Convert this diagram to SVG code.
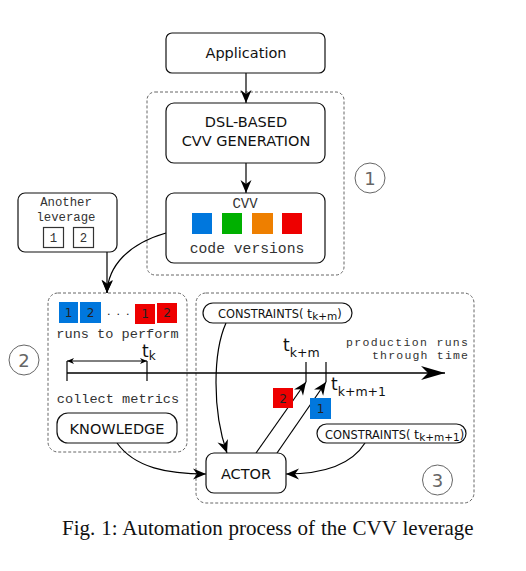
<svg xmlns="http://www.w3.org/2000/svg" width="526" height="571" viewBox="0 0 526 571">
<style>
.node{fill:#fff;stroke:#111;stroke-width:1.2}
.dash{fill:none;stroke:#666;stroke-width:1;stroke-dasharray:3,2}
.sans{font-family:"DejaVu Sans","Liberation Sans",sans-serif;fill:#111}
.mono{font-family:"Liberation Mono","DejaVu Sans Mono",monospace;fill:#333}
.circ{fill:none;stroke:#666;stroke-width:1}
.cnum{font-family:"DejaVu Sans",sans-serif;font-size:18px;fill:#666;text-anchor:middle}
.edge{fill:none;stroke:#000;stroke-width:1.2}
.sq{font-family:"DejaVu Sans",sans-serif;font-size:12px;fill:#222;text-anchor:middle}
</style>
<defs>
<marker id="ah" markerUnits="userSpaceOnUse" markerWidth="16" markerHeight="14" viewBox="-14 -7 16 14" refX="0" refY="0" orient="auto">
<path d="M0,0 L-13,-5.5 L-9,0 L-13,5.5 Z" fill="#000"/>
</marker>
<marker id="sm" markerUnits="userSpaceOnUse" markerWidth="10" markerHeight="8" viewBox="-8 -4 10 8" refX="0" refY="0" orient="auto-start-reverse">
<path d="M0,0 L-7,-3 L-5,0 L-7,3 Z" fill="#000"/>
</marker>
<marker id="big" markerUnits="userSpaceOnUse" markerWidth="26" markerHeight="16" viewBox="-25 -8 26 16" refX="0" refY="0" orient="auto">
<path d="M0,0 L-24,-7 L-17,0 L-24,7 Z" fill="#000"/>
</marker>
</defs>

<g id="groups">
<rect class="dash" x="147" y="92" width="197" height="183" rx="8"/>
<rect class="dash" x="48" y="293" width="139" height="159" rx="10"/>
<rect class="dash" x="196" y="293" width="278" height="210" rx="10"/>
<circle class="circ" cx="370" cy="178" r="15"/>
<text class="cnum" x="370" y="184.5">1</text>
<circle class="circ" cx="24" cy="360" r="15"/>
<text class="cnum" x="24" y="366.5">2</text>
<circle class="circ" cx="437.5" cy="480" r="15"/>
<text class="cnum" x="437.5" y="486.5">3</text>
</g>

<g id="timeline">
<line x1="67" y1="373" x2="445" y2="373" stroke="#000" stroke-width="1.4" marker-end="url(#big)"/>
<line x1="67" y1="361" x2="67" y2="381" stroke="#000" stroke-width="1.2"/>
<line x1="147" y1="361" x2="147" y2="381" stroke="#000" stroke-width="1.2"/>
<line x1="67" y1="361" x2="147" y2="361" stroke="#000" stroke-width="1" marker-start="url(#sm)" marker-end="url(#sm)"/>
<line x1="306" y1="362" x2="306" y2="382" stroke="#000" stroke-width="1.2"/>
<line x1="326" y1="362" x2="326" y2="382" stroke="#000" stroke-width="1.2"/>
<text class="sans" x="142" y="357" font-size="17">t<tspan font-size="12" dy="3">k</tspan></text>
<text class="sans" x="283" y="351" font-size="17">t<tspan font-size="12.5" dy="6">k+m</tspan></text>
<text class="sans" x="331" y="390" font-size="17">t<tspan font-size="12.5" dy="6">k+m+1</tspan></text>
<text class="mono" font-size="11.5"><tspan x="346" y="346" textLength="122" lengthAdjust="spacing">production runs</tspan><tspan x="372" y="359" textLength="96" lengthAdjust="spacing">through time</tspan></text>
</g>

<g id="connectors">
<line class="edge" x1="246" y1="73" x2="246" y2="103" marker-end="url(#ah)"/>
<line class="edge" x1="246" y1="163" x2="246" y2="193" marker-end="url(#ah)"/>
<path class="edge" d="M166,233 C128,244 108,266 107,293" marker-end="url(#ah)"/>
<line class="edge" x1="107" y1="252" x2="107" y2="293" marker-end="url(#ah)"/>
<path class="edge" d="M226,323 C213,352 212,410 227,453" marker-end="url(#ah)"/>
<path class="edge" d="M117,443 C135,468 168,474 206,474" marker-end="url(#ah)"/>
<path class="edge" d="M365,443 C350,467 320,474 286,474" marker-end="url(#ah)"/>
<line class="edge" x1="256" y1="453" x2="306" y2="382" marker-end="url(#ah)"/>
<line class="edge" x1="277" y1="453" x2="326" y2="382" marker-end="url(#ah)"/>
</g>

<g id="application">
<rect class="node" x="166" y="33" width="159" height="40" rx="6"/>
<text class="sans" x="246" y="57.5" font-size="14.5" text-anchor="middle">Application</text>
</g>

<g id="dsl">
<rect class="node" x="166" y="103" width="159" height="60" rx="8"/>
<text class="sans" x="246" y="127" font-size="14.5" text-anchor="middle">DSL-BASED</text>
<text class="sans" x="246" y="146" font-size="14.5" text-anchor="middle">CVV GENERATION</text>
</g>

<g id="cvv">
<rect class="node" x="166" y="193" width="159" height="70" rx="8"/>
<text class="mono" x="245" y="208" font-size="14" text-anchor="middle">CVV</text>
<rect x="192" y="213" width="20" height="21" fill="#0077DD"/>
<rect x="222" y="213" width="20" height="21" fill="#00B000"/>
<rect x="252" y="213" width="21" height="21" fill="#EE7F00"/>
<rect x="282" y="213" width="20" height="21" fill="#EE0000"/>
<text class="mono" x="247" y="253" font-size="14.7" text-anchor="middle">code versions</text>
</g>

<g id="another">
<rect class="node" x="18" y="193" width="99" height="59" rx="7"/>
<text class="mono" x="66" y="206" font-size="12.3" text-anchor="middle">Another</text>
<text class="mono" x="66" y="221" font-size="12.3" text-anchor="middle">leverage</text>
<rect x="43.5" y="227.5" width="20" height="20" fill="#fff" stroke="#333" stroke-width="1.2"/>
<rect x="73.5" y="227.5" width="20" height="20" fill="#fff" stroke="#333" stroke-width="1.2"/>
<text class="mono" x="53.5" y="242" font-size="12.3" text-anchor="middle">1</text>
<text class="mono" x="83.5" y="242" font-size="12.3" text-anchor="middle">2</text>
</g>

<g id="runs">
<rect x="59" y="302" width="19" height="21" fill="#0077DD"/>
<rect x="80" y="302" width="21" height="21" fill="#0077DD"/>
<rect x="135" y="304" width="20" height="20" fill="#EE0000"/>
<rect x="157" y="303" width="20" height="20" fill="#EE0000"/>
<text class="sq" x="68.5" y="317">1</text>
<text class="sq" x="90.5" y="317">2</text>
<text class="sq" x="145" y="318">1</text>
<text class="sq" x="167" y="317">2</text>
<text class="sans" x="107" y="315" font-size="11" letter-spacing="6">...</text>
<text class="mono" x="117.5" y="338" font-size="13.6" text-anchor="middle">runs to perform</text>
<text class="mono" x="118" y="403" font-size="13.6" text-anchor="middle">collect metrics</text>
</g>

<g id="knowledge">
<rect class="node" x="57" y="413" width="120" height="30" rx="11"/>
<text class="sans" x="117" y="434" font-size="14.5" text-anchor="middle">KNOWLEDGE</text>
</g>

<g id="constraints1">
<rect class="node" x="203" y="303" width="149" height="20" rx="10"/>
<text class="sans" x="218" y="318" font-size="11.4">CONSTRAINTS( <tspan font-size="13">t</tspan><tspan font-size="10.5" dy="2">k+m</tspan><tspan dy="-2">)</tspan></text>
</g>

<g id="constraints2">
<rect class="node" x="317" y="424" width="149" height="19" rx="9.5"/>
<text class="sans" x="325" y="438.5" font-size="11.4">CONSTRAINTS( <tspan font-size="13">t</tspan><tspan font-size="10.5" dy="2">k+m+1</tspan><tspan dy="-2">)</tspan></text>
</g>

<g id="deployed">
<rect x="273" y="388" width="20" height="20" fill="#EE0000"/>
<text class="sq" x="283" y="403">2</text>
<rect x="310" y="398" width="21" height="21" fill="#0077DD"/>
<text class="sq" x="320.5" y="413">1</text>
</g>

<g id="actor">
<rect class="node" x="206" y="453" width="80" height="40" rx="8"/>
<text class="sans" x="246" y="479" font-size="14.5" text-anchor="middle">ACTOR</text>
</g>

<text x="62" y="535" font-family="'Liberation Serif',serif" font-size="21" word-spacing="0.7" fill="#111">Fig. 1: Automation process of the CVV leverage</text>
</svg>
